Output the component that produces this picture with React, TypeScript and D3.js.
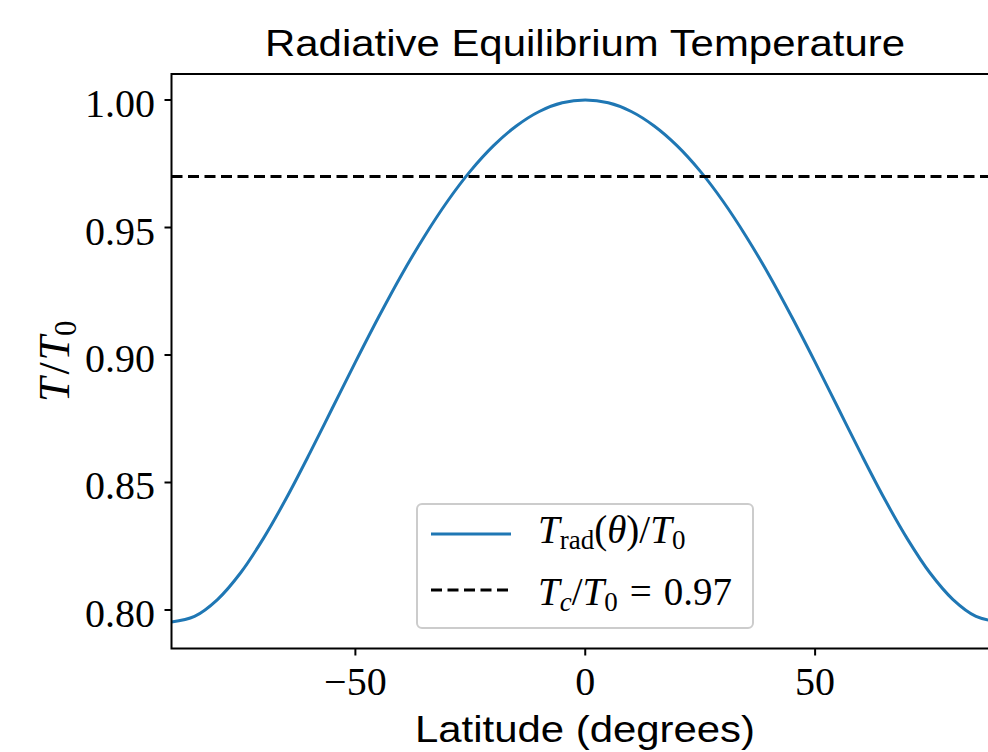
import React from "react";
import * as d3 from "d3";

// Data
const latitudes = [-90, -85, -80, -75, -70, -65, -60, -55, -50, -45, -40, -35, -30, -25, -20, -15, -10, -5, 0,
  5, 10, 15, 20, 25, 30, 35, 40, 45, 50, 55, 60, 65, 70, 75, 80, 85, 90];
const tRad = [0.7953, 0.7975, 0.8041, 0.8145, 0.8281, 0.8439, 0.8612, 0.8792, 0.8972, 0.9147, 0.9313, 0.9465, 0.9602, 0.9721, 0.9820, 0.9898, 0.9955, 0.9989, 1.0,
  0.9989, 0.9955, 0.9898, 0.9820, 0.9721, 0.9602, 0.9465, 0.9313, 0.9147, 0.8972, 0.8792, 0.8612, 0.8439, 0.8281, 0.8145, 0.8041, 0.7975, 0.7953];
const tCritical = 0.97;
const xTicks = [-50, 0, 50];
const yTicks = [0.8, 0.85, 0.9, 0.95, 1.0];
const titleText = "Radiative Equilibrium Temperature";
const xLabelText = "Latitude (degrees)";

const W = 988;
const H = 752;
const left = 171.5;
const right = 999;
const top = 74;
const bottom = 648.5;

export default function App() {
  const x = d3.scaleLinear().domain([-90, 90]).range([left, right]);
  const y = d3.scaleLinear().domain([0.7849, 1.0102]).range([bottom, top]);
  const pts = latitudes.map((lat, i) => [lat, tRad[i]] as [number, number]);
  const line = d3
    .line<[number, number]>()
    .x((d) => x(d[0]))
    .y((d) => y(d[1]))
    .curve(d3.curveCatmullRom.alpha(0.5));
  const serif = "'Liberation Serif', 'Times New Roman', serif";
  const sans = "'Liberation Sans', Arial, sans-serif";
  const blue = "#1f77b4";
  const fmtY = d3.format(".2f");
  const fmtX = (v: number) => (v < 0 ? "\u2212" + Math.abs(v) : String(v));

  return (
    <svg width={W} height={H} style={{ position: "absolute", left: 0, top: 0, background: "#fff" }}>
      <defs>
        <clipPath id="plotclip">
          <rect x={left} y={top} width={right - left} height={bottom - top} />
        </clipPath>
      </defs>
      <rect x={0} y={0} width={W} height={H} fill="#fff" />

      <g clipPath="url(#plotclip)">
        <path d={line(pts) || ""} fill="none" stroke={blue} strokeWidth={3} />
        <line x1={left} x2={right} y1={y(tCritical)} y2={y(tCritical)} stroke="#000" strokeWidth={3} strokeDasharray="11 5.5" />
      </g>

      {/* spines */}
      <rect x={left} y={top} width={right - left} height={bottom - top} fill="none" stroke="#000" strokeWidth={2} />

      {/* y ticks */}
      {yTicks.map((t) => (
        <g key={"y" + t}>
          <line x1={left - 7} x2={left} y1={y(t)} y2={y(t)} stroke="#000" strokeWidth={2} />
          <text x={155} y={y(t) + 17} textAnchor="end" fontFamily={serif} fontSize={40} fill="#000">
            {fmtY(t)}
          </text>
        </g>
      ))}

      {/* x ticks */}
      {xTicks.map((t) => (
        <g key={"x" + t}>
          <line x1={x(t)} x2={x(t)} y1={bottom} y2={bottom + 7} stroke="#000" strokeWidth={2} />
          <text x={x(t)} y={695} textAnchor="middle" fontFamily={serif} fontSize={40} fill="#000">
            {fmtX(t)}
          </text>
        </g>
      ))}

      {/* title */}
      <text x={585} y={56} textAnchor="middle" fontFamily={sans} fontSize={36} fill="#000"
        textLength={640} lengthAdjust="spacingAndGlyphs">
        {titleText}
      </text>

      {/* x label */}
      <text x={585} y={742} textAnchor="middle" fontFamily={sans} fontSize={36} fill="#000"
        textLength={340} lengthAdjust="spacingAndGlyphs">
        {xLabelText}
      </text>

      {/* y label */}
      <text transform={`translate(69, ${(top + bottom) / 2}) rotate(-90)`} textAnchor="middle"
        fontFamily={serif} fontSize={44} fill="#000">
        <tspan fontStyle="italic">T</tspan>
        <tspan dx={3}>/</tspan>
        <tspan fontStyle="italic" dx={2}>T</tspan>
        <tspan fontSize={31} dy={7}>0</tspan>
      </text>

      {/* legend */}
      <rect x={417} y={504} width={336} height={124} rx={5} fill="#fff" fillOpacity={0.8} stroke="#cccccc" strokeWidth={2} />
      <line x1={431} x2={511} y1={534} y2={534} stroke={blue} strokeWidth={3} />
      <line x1={431} x2={511} y1={590} y2={590} stroke="#000" strokeWidth={3} strokeDasharray="11 5.5" />
      <text x={538} y={543} fontFamily={serif} fontSize={39} fill="#000">
        <tspan fontStyle="italic">T</tspan>
        <tspan fontSize={27} dy={6}>rad</tspan>
        <tspan dy={-6}>(</tspan>
        <tspan fontStyle="italic">θ</tspan>
        <tspan>)/</tspan>
        <tspan fontStyle="italic">T</tspan>
        <tspan fontSize={27} dy={6}>0</tspan>
      </text>
      <text x={538} y={605} fontFamily={serif} fontSize={39} fill="#000">
        <tspan fontStyle="italic">T</tspan>
        <tspan fontSize={27} fontStyle="italic" dy={6}>c</tspan>
        <tspan dy={-6}>/</tspan>
        <tspan fontStyle="italic">T</tspan>
        <tspan fontSize={27} dy={6}>0</tspan>
        <tspan dy={-6} dx={12}>=</tspan>
        <tspan dx={12}>0.97</tspan>
      </text>
    </svg>
  );
}
